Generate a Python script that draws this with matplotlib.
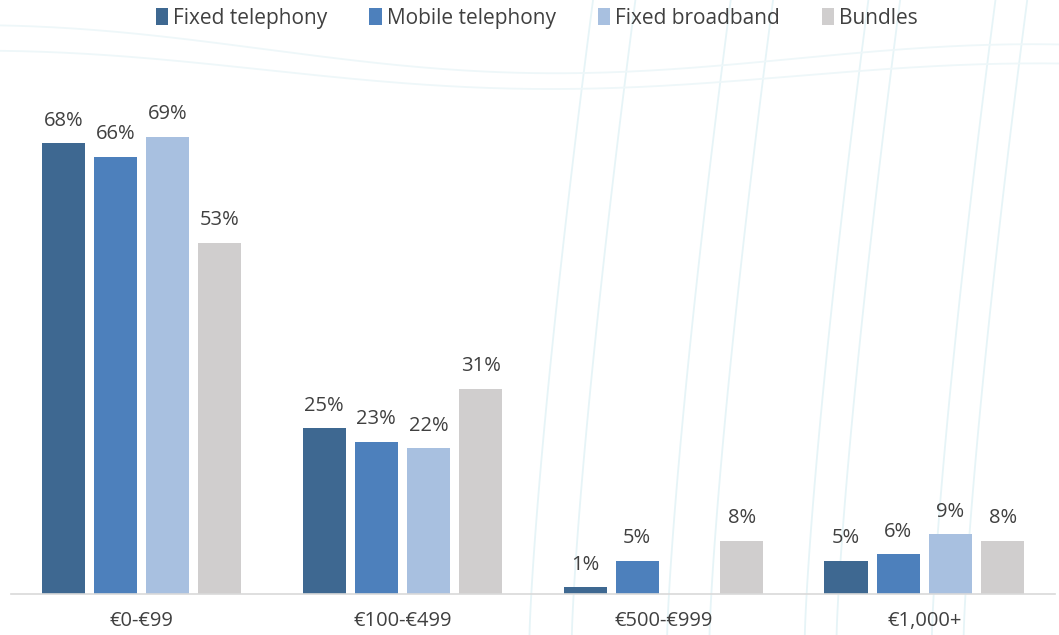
import numpy as np
import matplotlib.pyplot as plt

plt.rcParams['font.family'] = ['Open Sans', 'DejaVu Sans']

categories = ['€0-€99', '€100-€499', '€500-€999', '€1,000+']
series = ['Fixed telephony', 'Mobile telephony', 'Fixed broadband', 'Bundles']
fixed_tel = [68, 25, 1, 5]
mobile_tel = [66, 23, 5, 6]
fixed_bb = [69, 22, None, 9]
bundles = [53, 31, 8, 8]
colors = ['#3E6891', '#4D80BC', '#A8C0E0', '#D0CECE']

text_col = '#404040'

fig = plt.figure(figsize=(10.59, 6.35), dpi=100)

# faint decorative background strokes
bg = fig.add_axes([0, 0, 1, 1], zorder=-1)
bg.set_axis_off()
bg.set_xlim(0, 1)
bg.set_ylim(0, 1)
t = np.linspace(0, 1, 100)
for x0 in [0.50, 0.54, 0.63, 0.67, 0.76, 0.79, 0.88, 0.91]:
    bg.plot(x0 + 0.06 * t ** 1.3, t, color='#E6F4F7', lw=1.3)
u = np.linspace(0, 1, 200)
bg.plot(u, 0.90 + 0.06 * np.cos(np.pi * u) ** 2 - 0.03 * u, color='#EEF7F9', lw=1.3)
bg.plot(u, 0.87 + 0.05 * np.cos(np.pi * u) ** 2 - 0.02 * u, color='#EEF7F9', lw=1.3)

ax = fig.add_axes([0.0104, 0.0646, 0.9856, 0.835])
ax.patch.set_alpha(0)

x = np.arange(len(categories))
width = 0.165
step = 0.2
for i, (name, vals, c) in enumerate(zip(series, [fixed_tel, mobile_tel, fixed_bb, bundles], colors)):
    pos = x + (i - 1.5) * step
    for j, (p, v) in enumerate(zip(pos, vals)):
        if v is None:
            continue
        ax.bar(p, v, width, color=c, label=name if j == 0 else None)
        ax.annotate(f'{v}%', (p, v), xytext=(0, 9), textcoords='offset points',
                    ha='center', va='bottom', fontsize=14.5, color=text_col)

ax.set_xlim(-0.5, 3.5)
ax.set_ylim(0, 80)
ax.set_xticks(x)
ax.set_xticklabels(categories, fontsize=14.5, color=text_col)
ax.tick_params(axis='x', length=0, pad=12)
ax.set_yticks([])
for s in ['top', 'right', 'left']:
    ax.spines[s].set_visible(False)
ax.spines['bottom'].set_color('#D9D9D9')
ax.spines['bottom'].set_linewidth(1.2)

leg = fig.legend(loc='upper center', bbox_to_anchor=(0.507, 1.017), ncol=4, frameon=False,
                 fontsize=15, handlelength=0.6, handleheight=0.9, handletextpad=0.25,
                 columnspacing=2.0)
for t in leg.get_texts():
    t.set_color(text_col)

fig.savefig('out.png', dpi=100)
